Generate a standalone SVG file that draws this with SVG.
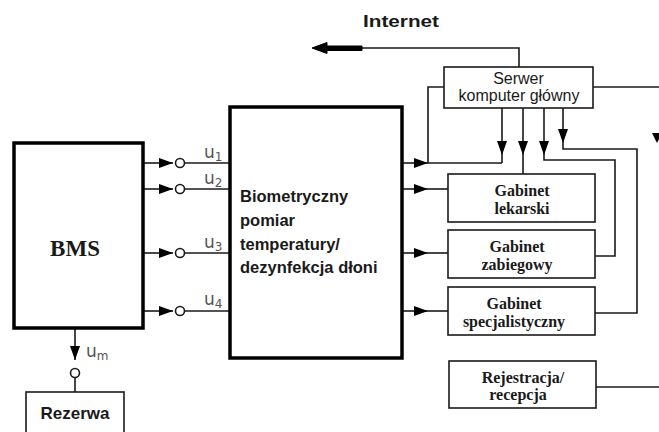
<svg xmlns="http://www.w3.org/2000/svg" width="659" height="432" viewBox="0 0 659 432">
<style>
.ln{fill:none;stroke:#1a1a1a;stroke-width:1.6}
.thick{fill:#fff;stroke:#000;stroke-width:3.5}
.box{fill:#fff;stroke:#1a1a1a;stroke-width:1.6}
.sans{font-family:"Liberation Sans",Arial,sans-serif;fill:#1a1a1a}
.serif{font-family:"Liberation Serif","Times New Roman",serif;fill:#1a1a1a}
.gab{font-family:"Liberation Serif","Times New Roman",serif;fill:#1a1a1a;font-size:16px;font-weight:bold;text-anchor:middle}
.lbl{font-family:"DejaVu Sans","Liberation Sans",sans-serif;fill:#555;font-size:17px}
.sub{font-size:12px}
.dot{fill:#fff;stroke:#1a1a1a;stroke-width:1.6}
</style>
<defs>
<marker id="ah" markerWidth="14" markerHeight="10" refX="14" refY="5" orient="auto" markerUnits="userSpaceOnUse">
<path d="M0,0 L14,5 L0,10 z" fill="#000"/>
</marker>
</defs>

<g id="connectors">
<path class="ln" d="M143,163 H173" marker-end="url(#ah)"/>
<circle class="dot" cx="180" cy="163" r="4.5"/>
<path class="ln" d="M184.5,163 H230"/>
<path class="ln" d="M143,189 H173" marker-end="url(#ah)"/>
<circle class="dot" cx="180" cy="189" r="4.5"/>
<path class="ln" d="M184.5,189 H230"/>
<path class="ln" d="M143,253 H173" marker-end="url(#ah)"/>
<circle class="dot" cx="180" cy="253" r="4.5"/>
<path class="ln" d="M184.5,253 H230"/>
<path class="ln" d="M143,311 H173" marker-end="url(#ah)"/>
<circle class="dot" cx="180" cy="311" r="4.5"/>
<path class="ln" d="M184.5,311 H230"/>
<path class="ln" d="M75,328 V360" marker-end="url(#ah)"/>
<circle class="dot" cx="75" cy="373" r="4.5"/>
<path class="ln" d="M75,377.5 V392"/>
<path class="ln" d="M402,163 H428" marker-end="url(#ah)"/>
<path class="ln" d="M428,163 H502"/>
<path class="ln" d="M402,189 H428" marker-end="url(#ah)"/>
<path class="ln" d="M428,189 H448"/>
<path class="ln" d="M402,253 H428" marker-end="url(#ah)"/>
<path class="ln" d="M428,253 H448"/>
<path class="ln" d="M402,311 H428" marker-end="url(#ah)"/>
<path class="ln" d="M428,311 H448"/>
<path class="ln" d="M444,87 H428 V163"/>
<path class="ln" d="M502,108 V155" marker-end="url(#ah)"/>
<path class="ln" d="M502,155 V163"/>
<path class="ln" d="M523,108 V155" marker-end="url(#ah)"/>
<path class="ln" d="M523,155 V174"/>
<path class="ln" d="M544,108 V155" marker-end="url(#ah)"/>
<path class="ln" d="M544,155 V160 H615 V256 H595"/>
<path class="ln" d="M563,108 V143" marker-end="url(#ah)"/>
<path class="ln" d="M563,143 V149 H637 V313 H595"/>
<path class="ln" d="M593,87 H659"/>
<path d="M652,133 L662,133 L657,143 z" fill="#000"/>
<path class="ln" d="M596,387 H659"/>
<path class="ln" d="M519,67 V48 H362"/>
<path d="M362,46 V50.5 H327 V53.5 L312,48 L327,42.5 V46 z" fill="#000" stroke="#000" stroke-width="1"/>
</g>

<g id="internet-label">
<text class="sans" x="363" y="27" font-size="17" font-weight="bold" textLength="76" lengthAdjust="spacingAndGlyphs">Internet</text>
</g>

<g id="bms">
<rect class="thick" x="14" y="143" width="129" height="185"/>
<text class="serif" x="75" y="256" font-size="23" font-weight="bold" text-anchor="middle">BMS</text>
</g>

<g id="labels-u">
<text class="lbl" x="204" y="158">u<tspan class="sub" dy="3">1</tspan></text>
<text class="lbl" x="204" y="184">u<tspan class="sub" dy="3">2</tspan></text>
<text class="lbl" x="204" y="248">u<tspan class="sub" dy="3">3</tspan></text>
<text class="lbl" x="204" y="305">u<tspan class="sub" dy="3">4</tspan></text>
<text class="lbl" x="86" y="357">u<tspan class="sub" dy="3">m</tspan></text>
</g>

<g id="rezerwa">
<rect class="box" x="26" y="392" width="98" height="50"/>
<text class="sans" x="75" y="419" font-size="17" font-weight="bold" text-anchor="middle">Rezerwa</text>
</g>

<g id="main">
<rect class="thick" x="230" y="107" width="172" height="251"/>
<text class="sans" x="240" y="202" font-size="16.5" font-weight="bold">Biometryczny</text>
<text class="sans" x="240" y="226" font-size="16.5" font-weight="bold">pomiar</text>
<text class="sans" x="240" y="250" font-size="16.5" font-weight="bold">temperatury/</text>
<text class="sans" x="240" y="273" font-size="16.5" font-weight="bold">dezynfekcja dłoni</text>
</g>

<g id="serwer">
<rect class="box" x="444" y="67" width="149" height="41"/>
<text class="sans" x="518.5" y="84" font-size="16" text-anchor="middle">Serwer</text>
<text class="sans" x="519" y="101" font-size="16" text-anchor="middle">komputer główny</text>
</g>

<g id="lekarski">
<rect class="box" x="448" y="174" width="147" height="48"/>
<text class="gab" x="522" y="196">Gabinet</text>
<text class="gab" x="522" y="214">lekarski</text>
</g>

<g id="zabiegowy">
<rect class="box" x="448" y="230" width="147" height="48"/>
<text class="gab" x="517" y="252">Gabinet</text>
<text class="gab" x="517" y="270">zabiegowy</text>
</g>

<g id="specjalistyczny">
<rect class="box" x="448" y="287" width="147" height="48"/>
<text class="gab" x="514" y="309">Gabinet</text>
<text class="gab" x="514" y="327">specjalistyczny</text>
</g>

<g id="rejestracja">
<rect class="box" x="449" y="361" width="147" height="47"/>
<text class="gab" x="523" y="383">Rejestracja/</text>
<text class="gab" x="518" y="400">recepcja</text>
</g>
</svg>
